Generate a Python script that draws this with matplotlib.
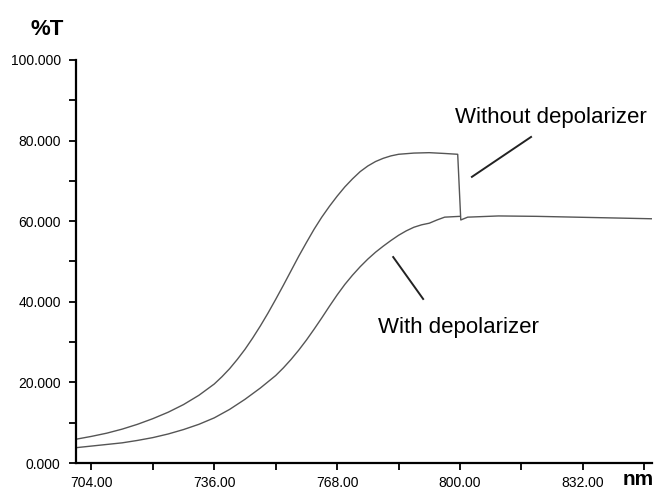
import numpy as np
import matplotlib.pyplot as plt

# valores (nm, %T)
nm_sem = [700, 704, 708, 712, 716, 720, 724, 728, 732, 736, 738, 740, 742, 744, 746,
          748, 750, 752, 754, 756, 758, 760, 762, 764, 766, 768, 770, 772, 774, 776,
          778, 780, 782, 784, 788, 792, 796, 799.4, 800.2,
          802, 810, 820, 830, 840, 850]
t_sem = [5.9, 6.6, 7.4, 8.4, 9.6, 11.0, 12.6, 14.5, 16.8, 19.6, 21.4, 23.4, 25.7, 28.2, 31.0,
         34.0, 37.2, 40.6, 44.1, 47.7, 51.3, 54.7, 58.0, 61.0, 63.7, 66.2, 68.5, 70.5, 72.3, 73.7,
         74.8, 75.6, 76.2, 76.6, 76.9, 77.0, 76.8, 76.6, 60.3,
         61.0, 61.3, 61.2, 61.0, 60.8, 60.6]

nm_com = [700, 704, 708, 712, 716, 720, 724, 728, 732, 736, 740, 744, 748, 752, 754,
          756, 758, 760, 762, 764, 766, 768, 770, 772, 774, 776, 778, 780, 782, 784,
          786, 788, 790, 792, 794, 796, 800]
t_com = [3.8, 4.2, 4.6, 5.0, 5.6, 6.3, 7.2, 8.3, 9.6, 11.2, 13.3, 15.8, 18.6, 21.7, 23.6,
         25.7, 28.0, 30.5, 33.2, 36.0, 38.9, 41.7, 44.3, 46.6, 48.7, 50.6, 52.3, 53.8, 55.2, 56.5,
         57.6, 58.5, 59.1, 59.5, 60.3, 61.0, 61.2]

xticks = [704, 736, 768, 800, 832]
yticks = [0, 20, 40, 60, 80, 100]

plt.rcParams['font.family'] = ['Liberation Sans', 'DejaVu Sans']

fig = plt.figure(figsize=(6.57, 4.9), dpi=100)
ax = fig.add_axes([0.1157, 0.0551, 0.8767, 0.8225])

ax.plot(nm_sem, t_sem, color='#555555', lw=1.0)
ax.plot(nm_com, t_com, color='#555555', lw=1.0)

ax.set_xlim(700, 850)
ax.set_ylim(0, 100)
ax.set_xticks(xticks)
ax.set_xticklabels([f'{v:.2f}' for v in xticks])
ax.set_xticks([720, 752, 784, 816, 848], minor=True)
ax.set_yticks(yticks)
ax.set_yticklabels([f'{v:.3f}' for v in yticks])
ax.set_yticks([10, 30, 50, 70, 90], minor=True)

for s in ['top', 'right']:
    ax.spines[s].set_visible(False)
for s in ['left', 'bottom']:
    ax.spines[s].set_linewidth(1.6)

ax.tick_params(which='both', direction='out', length=5, width=1.3, labelsize=10)
ax.tick_params(axis='x', which='both', pad=4)
ax.tick_params(axis='y', which='both', pad=6)

# linhas de indicacao
ax.plot([803.1, 818.5], [71.0, 80.9], color='#222222', lw=1.4)
ax.plot([782.6, 790.4], [51.1, 40.7], color='#222222', lw=1.4)

ax.text(798.7, 84.4, 'Without depolarizer', fontsize=16, va='baseline', ha='left')
ax.text(778.6, 32.3, 'With depolarizer', fontsize=16, va='baseline', ha='left')

fig.text(0.0457, 0.9286, '%T', fontsize=16, fontweight='bold', va='baseline', ha='left')
fig.text(0.948, 0.01, 'nm', fontsize=15, fontweight='bold', va='baseline', ha='left')

fig.savefig('out.png', dpi=100)
